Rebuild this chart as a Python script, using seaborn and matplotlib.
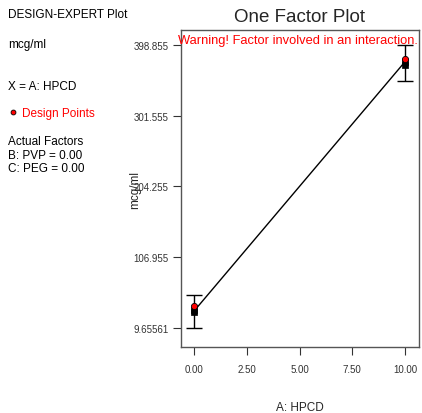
import matplotlib
matplotlib.use("Agg")
import matplotlib.pyplot as plt
import seaborn as sns
import pandas as pd
import numpy as np

sns.set_style("white")
plt.rcParams['font.family'] = ['Liberation Sans', 'DejaVu Sans']

# Data
factor_levels = [0.0, 10.0]
predicted = [33.0, 376.0]
ci_low = [10.0, 349.0]
ci_high = [55.0, 399.0]
design_x = [0.0, 0.0, 0.0, 10.0, 10.0, 10.0]
design_y = [40.0, 34.0, 31.0, 380.0, 375.0, 372.0]
y_ticks = [9.65561, 106.955, 204.255, 301.555, 398.855]
y_tick_labels = ["9.65561", "106.955", "204.255", "301.555", "398.855"]
x_ticks = [0.0, 2.5, 5.0, 7.5, 10.0]
x_tick_labels = ["0.00", "2.50", "5.00", "7.50", "10.00"]

fig = plt.figure(figsize=(4.22, 4.14), dpi=100)
ax = fig.add_axes([181/422, 1-348/414, (419-181)/422, (348-31)/414])

line_df = pd.DataFrame({"x": factor_levels, "y": predicted})
sns.lineplot(data=line_df, x="x", y="y", ax=ax, color="black", linewidth=1.0)

yerr = [np.array(predicted) - np.array(ci_low), np.array(ci_high) - np.array(predicted)]
ax.errorbar(factor_levels, predicted, yerr=yerr, fmt="none", ecolor="black",
            elinewidth=1.0, capsize=6, capthick=1.0)

pts = pd.DataFrame({"x": design_x, "y": design_y})
sns.scatterplot(data=pts.iloc[1:3], x="x", y="y", ax=ax, marker="s", s=22,
                color="black", edgecolor="black", linewidth=0.5, zorder=4)
sns.scatterplot(data=pts.iloc[4:6], x="x", y="y", ax=ax, marker="s", s=22,
                color="black", edgecolor="black", linewidth=0.5, zorder=4)
sns.scatterplot(data=pts.iloc[[0, 3]], x="x", y="y", ax=ax, marker="o", s=20,
                color="red", edgecolor="black", linewidth=0.6, zorder=5)

ax.set_xlim(-0.62, 10.66)
ax.set_ylim(-16.5, 419.5)
ax.set_xticks(x_ticks)
ax.set_xticklabels(x_tick_labels, fontsize=7, color="#333333")
ax.set_yticks(y_ticks)
ax.set_yticklabels(y_tick_labels, fontsize=7, color="#333333")
ax.tick_params(axis="both", direction="out", length=6, width=0.8, color="#333333",
               left=True, bottom=True, pad=3)
ax.tick_params(axis="x", pad=6)
for sp in ax.spines.values():
    sp.set_color("#555555")
    sp.set_linewidth(1.0)

ax.set_xlabel("")
ax.set_ylabel("")
fig.text(300/422, 1-408/414, "A: HPCD", ha="center", va="center", fontsize=8.5)
fig.text(135/422, 1-190/414, "mcg/ml", ha="center", va="center", rotation=90, fontsize=8.5)
fig.text(300/422, 1-18/414, "One Factor Plot", ha="center", va="center", fontsize=13.5)
fig.text(298/422, 1-41/414, "Warning! Factor involved in an interaction.",
         ha="center", va="center", fontsize=9.3, color="red")

left_texts = [
    ("DESIGN-EXPERT Plot", 15, "black"),
    ("mcg/ml", 45, "black"),
    ("X = A: HPCD", 87, "black"),
    ("Actual Factors", 142, "black"),
    ("B: PVP = 0.00", 156, "black"),
    ("C: PEG = 0.00", 169, "black"),
]
for txt, yy, c in left_texts:
    fig.text(8/422, 1-yy/414, txt, ha="left", va="center", fontsize=8.5, color=c)
fig.text(22/422, 1-114/414, "Design Points", ha="left", va="center", fontsize=8.5, color="red")
fig.lines.append(matplotlib.lines.Line2D([13/422], [1-113/414], marker="o", markersize=3.5,
                 markerfacecolor="red", markeredgecolor="black", markeredgewidth=0.6,
                 transform=fig.transFigure, linestyle="none"))

fig.savefig("out.png", dpi=100)
